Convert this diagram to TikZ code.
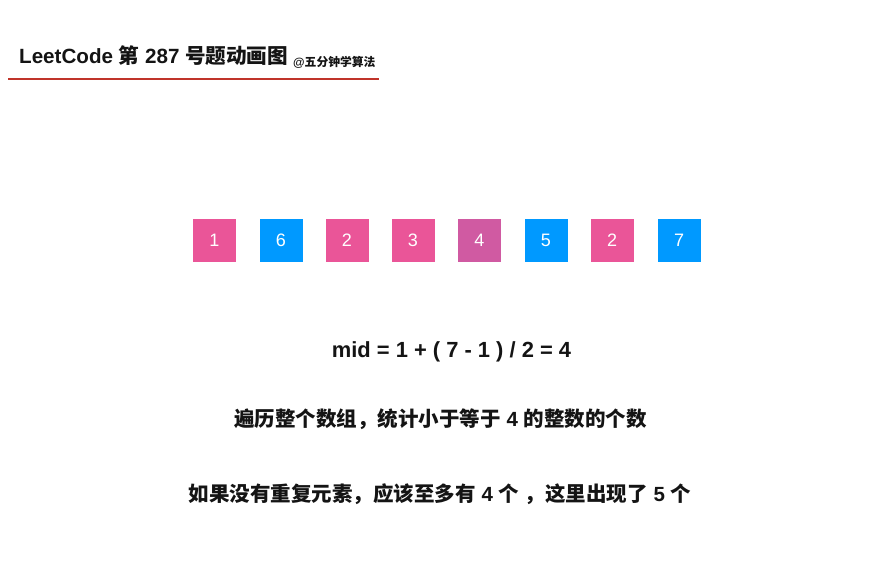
\documentclass[tikz,border=0pt]{standalone}
\usepackage{fontspec}
\setmainfont{Liberation Sans}
\newfontfamily\cjk{Noto Sans CJK SC}
\definecolor{pinkbox}{RGB}{234,85,152}
\definecolor{bluebox}{RGB}{0,153,255}
\definecolor{midbox}{RGB}{208,90,162}
\definecolor{redline}{RGB}{192,52,42}
\definecolor{txt}{RGB}{20,20,20}
\tikzset{
  numbox/.style={minimum width=43pt,minimum height=43pt,inner sep=0pt,text=white,font=\fontsize{18}{18}\selectfont},
  pk/.style={numbox,fill=pinkbox},
  bl/.style={numbox,fill=bluebox},
  pu/.style={numbox,fill=midbox},
  line/.style={anchor=base,text=txt,font=\fontsize{20.5}{20.5}\selectfont\bfseries,inner sep=0pt}
}
\begin{document}
\begin{tikzpicture}[x=1pt,y=-1pt]
\useasboundingbox (0,0) rectangle (879,579);
\fill[white] (0,0) rectangle (879,579);
% title
\node[anchor=base west,inner sep=0pt,text=txt,font=\fontsize{20.6}{20.6}\selectfont\bfseries] (title) at (19,63) {LeetCode {\cjk 第} 287 {\cjk 号题动画图}};
\node[anchor=base west,inner sep=0pt,text=txt,font=\fontsize{11.8}{11.8}\selectfont\bfseries] (sub) at (293,66) {@{\cjk 五分钟学算法}};
\coordinate (l1) at (8,79);
\coordinate (l2) at (379,79);
\draw[redline,line width=1.5pt] (l1) -- (l2);
% boxes
\node[pk] (b1) at (214.5,240.5) {1};
\node[bl] (b2) at (281,240.5) {6};
\node[pk] (b3) at (347,240.5) {2};
\node[pk] (b4) at (413,240.5) {3};
\node[pu] (b5) at (479.5,240.5) {4};
\node[bl] (b6) at (546,240.5) {5};
\node[pk] (b7) at (612,240.5) {2};
\node[bl] (b8) at (679,240.5) {7};
% texts
\node[line,font=\fontsize{21.9}{21.9}\selectfont\bfseries] (t1) at (451.5,357) {mid = 1 + ( 7 - 1 ) / 2 = 4};
\node[line] (t2) at (440.5,426) {{\cjk 遍历整个数组，统计小于等于} 4 {\cjk 的整数的个数}};
\node[line] (t3) at (440,501) {{\cjk 如果没有重复元素，应该至多有} 4 {\cjk 个} {\cjk ，这里出现了} 5 {\cjk 个}};
\end{tikzpicture}
\end{document}
